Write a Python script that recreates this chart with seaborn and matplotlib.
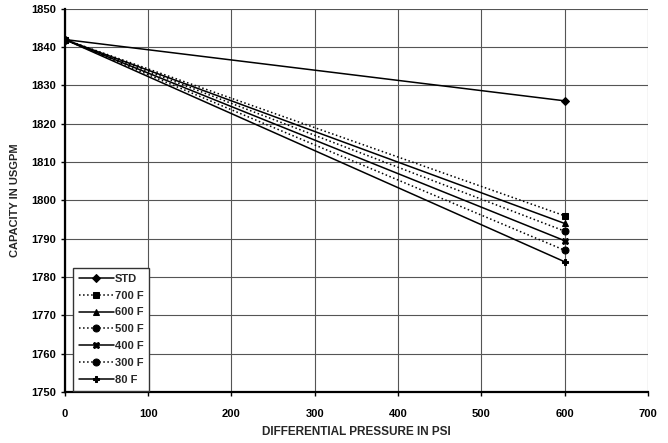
import matplotlib
matplotlib.use("Agg")
import matplotlib.pyplot as plt
import pandas as pd
import seaborn as sns

# data: capacity vs differential pressure
pressure = [0, 600]
series_names = ["STD", "700 F", "600 F", "500 F", "400 F", "300 F", "80 F"]
start_capacity = [1842, 1842, 1842, 1842, 1842, 1842, 1842]
end_capacity = [1826, 1796, 1794, 1792, 1789.5, 1787, 1784]

markers = ["D", "s", "^", "o", "X", "o", "P"]
linestyles = ["-", ":", "-", ":", "-", ":", "-"]

rows = []
for name, y0, y1 in zip(series_names, start_capacity, end_capacity):
    rows.append({"series": name, "psi": pressure[0], "cap": y0})
    rows.append({"series": name, "psi": pressure[1], "cap": y1})
df = pd.DataFrame(rows)

sns.set_style("white")
plt.rcParams["font.family"] = ["Liberation Sans", "DejaVu Sans"]

fig = plt.figure(figsize=(6.68, 4.43), dpi=100)
ax = fig.add_axes([0.097, 0.115, 0.873, 0.865])

for name, mk, ls in zip(series_names, markers, linestyles):
    sub = df[df["series"] == name]
    sizes = 4 if mk == "D" else 5
    sns.lineplot(data=sub, x="psi", y="cap", ax=ax, color="black", lw=1.1,
                 linestyle=ls, marker=mk, markersize=sizes, markeredgecolor="black",
                 label=name)

ax.set_xlim(0, 700)
ax.set_ylim(1750, 1850)
ax.set_xticks(range(0, 701, 100))
ax.set_yticks(range(1750, 1851, 10))
ax.grid(True, color="#555555", lw=0.8)
ax.set_axisbelow(True)

for s in ["top", "right"]:
    ax.spines[s].set_visible(False)
for s in ["left", "bottom"]:
    ax.spines[s].set_color("black")
    ax.spines[s].set_linewidth(1.6)
ax.tick_params(axis="both", direction="out", length=3, width=1, colors="black",
               labelsize=8, left=True, bottom=True)
ax.tick_params(axis="x", pad=9)
for lab in ax.get_xticklabels() + ax.get_yticklabels():
    lab.set_fontweight("bold")

ax.set_xlabel("DIFFERENTIAL PRESSURE IN PSI", fontsize=8.5, fontweight="bold", labelpad=5)
ax.set_ylabel("CAPACITY IN USGPM", fontsize=8, fontweight="bold", labelpad=8)

leg = ax.legend(loc="lower left", bbox_to_anchor=(0.014, 0.004), borderaxespad=0,
                fontsize=8, handlelength=3.2, handletextpad=0.1, borderpad=0.5,
                labelspacing=0.62, frameon=True, fancybox=False, framealpha=1)
leg.get_frame().set_edgecolor("#333333")
leg.get_frame().set_linewidth(1.0)
for t in leg.get_texts():
    t.set_fontweight("bold")

fig.savefig("out.png", dpi=100)
